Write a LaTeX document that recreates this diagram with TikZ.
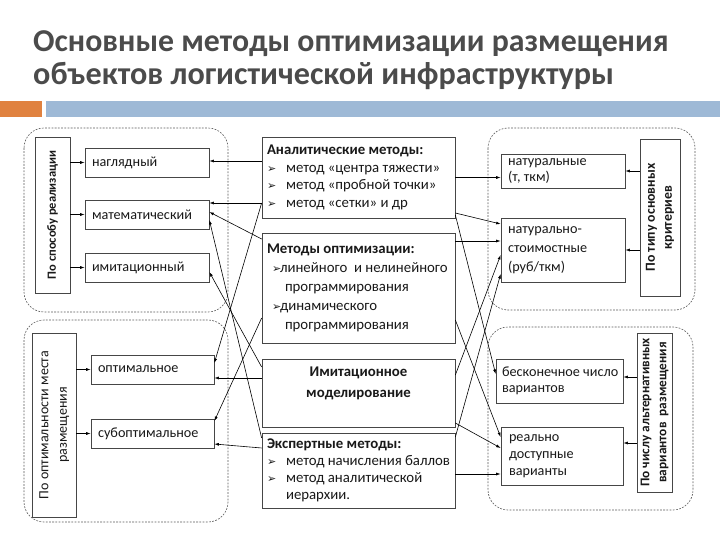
\documentclass[tikz,border=0pt]{standalone}
\usepackage{fontspec}
\setmainfont{Carlito}
\newfontfamily\dejavu{DejaVu Sans}
\usetikzlibrary{arrows.meta,calc}
\definecolor{titlegray}{RGB}{75,75,75}
\definecolor{orangebar}{RGB}{224,130,64}
\definecolor{bluebar}{RGB}{158,185,214}
\definecolor{boxgray}{RGB}{70,70,70}
\definecolor{txt}{RGB}{25,25,25}
\definecolor{grpgray}{RGB}{90,90,90}
\newcommand{\mybul}{\makebox[19pt][l]{{\dejavu\fontsize{11}{11}\selectfont ➢}}}
\newcommand{\mybulb}{\makebox[8pt][l]{{\dejavu\fontsize{11}{11}\selectfont ➢}}}
\begin{document}
\begin{tikzpicture}[x=1pt,y=-1pt,
  grp/.style={draw=grpgray, line width=0.6pt, dash pattern=on 1.8pt off 1.4pt, rounded corners=20pt},
  sbox/.style={draw=boxgray, line width=0.7pt, inner xsep=7pt, inner ysep=1pt, align=flush left, text=txt,
    font=\fontsize{14.2}{17}\selectfont},
  cbox/.style={draw=boxgray, line width=0.7pt, inner xsep=5pt, inner ysep=1pt, align=flush left, text=txt,
    minimum width=193pt, text width=183pt, font=\fontsize{14.8}{17.5}\selectfont},
  lab/.style={draw=boxgray, line width=0.9pt, inner sep=0pt, text=txt, font=\bfseries\fontsize{12.5}{18}\selectfont},
  arr/.style={line width=0.6pt, -{Latex[length=4.5pt,width=3pt]}}
]
\useasboundingbox (0,0) rectangle (720,540);
\fill[white] (0,0) rectangle (720,540);

% title
\node[anchor=base west, inner sep=0, text=titlegray, font=\bfseries\fontsize{31.8}{36}\selectfont] (t1) at (33,52) {Основные методы оптимизации размещения};
\node[anchor=base west, inner sep=0, text=titlegray, font=\bfseries\fontsize{32.2}{36}\selectfont] (t2) at (33,85) {объектов логистической инфраструктуры};
\fill[orangebar] (0,101) rectangle (42,117);
\fill[bluebar] (46,101) rectangle (720,117);

% groups
\draw[grp] (24,128) rectangle (228,312);
\draw[grp] (24,320) rectangle (228,522);
\draw[grp] (488,128) rectangle (695,310);
\draw[grp] (488,327) rectangle (693,510);

% left top
\node[lab, minimum width=35pt, minimum height=156pt] (lab1) at (52.5,215) {\rotatebox{90}{По способу реализации}};
\node[sbox, minimum width=124pt, minimum height=29pt, text width=110pt] (nagl) at (147,162.5) {наглядный};
\node[sbox, minimum width=124pt, minimum height=29pt, text width=110pt] (mat) at (147,214.5) {математический};
\node[sbox, minimum width=124pt, minimum height=29pt, text width=110pt] (imit) at (147,267.5) {имитационный};

% left bottom
\node[lab, minimum width=44pt, minimum height=184pt, font=\fontsize{14}{18.5}\selectfont] (lab2) at (54,425) {\rotatebox{90}{\begin{tabular}{@{}c@{}}По оптимальности места\\размещения\end{tabular}}};
\node[sbox, minimum width=123pt, minimum height=29pt, text width=109pt] (opt) at (152.5,369.5) {оптимальное};
\node[sbox, minimum width=123pt, minimum height=29pt, text width=109pt] (subopt) at (152.5,433.5) {субоптимальное};

% centre
\node[cbox, minimum height=81pt] (anal) at (358.5,177.5) {\textbf{Аналитические методы:}\\\mybul метод «центра тяжести»\\\mybul метод «пробной точки»\\\mybul метод «сетки» и др};
\node[cbox, minimum height=110pt, font=\fontsize{14.8}{19}\selectfont] (optm) at (358.5,288) {\textbf{Методы оптимизации:}\\\hspace*{5pt}\mybulb линейного\ \ и нелинейного\\\hspace*{18pt}программирования\\\hspace*{5pt}\mybulb динамического\\\hspace*{18pt}программирования};
\node[cbox, minimum height=68pt] (imm) at (358.5,393) {};
\node[align=center, inner sep=0, text=txt, font=\bfseries\fontsize{14.8}{21}\selectfont] (immt) at (358.5,383) {Имитационное\\моделирование};
\node[cbox, minimum height=75pt, font=\fontsize{14.8}{17}\selectfont] (exp) at (358.5,470.5) {\textbf{Экспертные методы:}\\\mybul метод начисления баллов\\\mybul метод аналитической\\\hspace*{19pt}иерархии.};

% right top
\node[lab, minimum width=40pt, minimum height=157pt, font=\bfseries\fontsize{13.8}{17}\selectfont] (lab3) at (660,217.5) {\rotatebox{90}{\begin{tabular}{@{}c@{}}По типу основных\\критериев\end{tabular}}};
\node[sbox, minimum width=124pt, minimum height=34pt, text width=110pt, font=\fontsize{14.2}{16}\selectfont] (nat) at (563,171) {натуральные\\(т, ткм)};
\node[sbox, minimum width=124pt, minimum height=64pt, text width=110pt, font=\fontsize{14.2}{19}\selectfont] (natst) at (563,250) {натурально-\\стоимостные\\(руб/ткм)};

% right bottom
\node[lab, minimum width=35pt, minimum height=159pt, font=\bfseries\fontsize{13.3}{17}\selectfont] (lab4) at (654.5,412.5) {\rotatebox{90}{\begin{tabular}{@{}c@{}}По числу альтернативных\\вариантов\ \ размещения\end{tabular}}};
\node[sbox, minimum width=127pt, minimum height=44pt, text width=115pt, inner xsep=6pt, font=\fontsize{14.2}{16}\selectfont] (inf) at (559.5,381) {\mbox{бесконечное число}\\вариантов};
\node[sbox, minimum width=122pt, minimum height=58pt, text width=106pt, inner xsep=8pt, font=\fontsize{14.2}{17}\selectfont] (real) at (562,456) {реально\\доступные\\варианты};

% group label arrows
\draw[arr] (lab1.east |- nagl.west) -- (nagl.west);
\draw[arr] (lab1.east |- mat.west) -- (mat.west);
\draw[arr] (lab1.east |- imit.west) -- (imit.west);
\draw[arr] (lab2.east |- opt.west) -- (opt.west);
\draw[arr] (lab2.east |- subopt.west) -- (subopt.west);
\draw[arr] (lab3.west |- nat.east) -- (nat.east);
\draw[arr] (lab3.west |- natst.east) -- (natst.east);
\coordinate (r1) at ($(inf.east)+(0,-4)$);
\coordinate (r2) at ($(real.east)+(0,-13)$);
\draw[arr] (lab4.west |- r1) -- (r1);
\draw[arr] (lab4.west |- r2) -- (r2);

% left connectors
\coordinate (c1) at ($(anal.west)+(0,-16.5)$);
\coordinate (c2) at ($(anal.west)+(0,25.5)$);
\coordinate (c3) at ($(optm.west)+(0,-49)$);
\coordinate (c7) at ($(optm.west)+(0,30)$);
\coordinate (c5) at ($(imm.west)+(0,-26)$);
\coordinate (c8) at ($(imm.west)+(0,-15)$);
\coordinate (c4) at ($(exp.west)+(0,-32.5)$);
\coordinate (c9) at ($(exp.west)+(0,-22.5)$);
\draw[arr] (c1) -- (nagl.east |- c1);
\draw[arr] (c2) -- (mat.east |- c2);
\draw[arr] (c3) -- ($(mat.east)+(0,-2.5)$);
\draw[arr] (c4) -- ($(mat.east)+(0,5.5)$);
\draw[arr] (c5) -- ($(imit.east)+(0,4.5)$);
\draw[arr] (c2) -- ($(opt.east)+(0,-6.5)$);
\draw[arr] (c7) -- ($(subopt.east)+(0,-12.5)$);
\draw[arr] (c8) -- (opt.east |- c8);
\draw[arr] (c9) -- ($(subopt.east)+(0,10.5)$);

% right connectors
\coordinate (d2) at ($(anal.east)+(0,35.5)$);
\coordinate (d4) at ($(anal.east)+(0,37.5)$);
\coordinate (d3) at ($(optm.east)+(0,-47)$);
\coordinate (d7) at ($(optm.east)+(0,32)$);
\coordinate (d5) at ($(imm.east)+(0,-18)$);
\coordinate (d8) at ($(imm.east)+(0,30)$);
\coordinate (d6) at ($(exp.east)+(0,-33.5)$);
\coordinate (d9) at ($(exp.east)+(0,3.5)$);
\draw[arr] (anal.east) -- (nat.west |- anal.east);
\draw[arr] (d2) -- ($(natst.west)+(0,-26)$);
\draw[arr] (d3) -- (natst.west |- d3);
\draw[arr] (d4) -- ($(inf.west)+(0,-7)$);
\draw[arr] (d5) -- ($(natst.west)+(0,5)$);
\draw[arr] (d6) -- ($(natst.west)+(0,24)$);
\draw[arr] (d7) -- ($(real.west)+(0,-19)$);
\draw[arr] (d8) -- ($(real.west)+(0,-8)$);
\draw[arr] (d9) -- (real.west |- d9);
\end{tikzpicture}
\end{document}
